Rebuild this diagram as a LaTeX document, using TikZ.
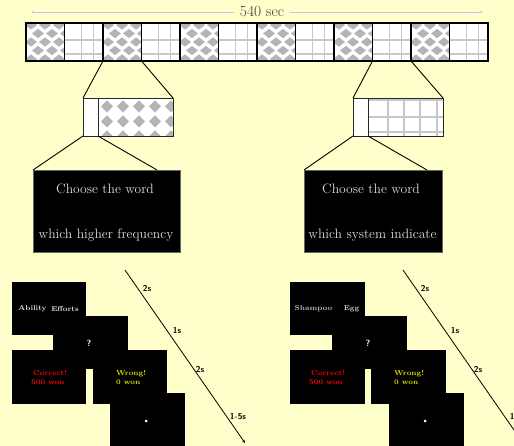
\documentclass[tikz,border=0pt]{standalone}
\usetikzlibrary{arrows.meta}
\definecolor{bg}{HTML}{FFFFCC}
\definecolor{dia}{HTML}{B4B4B4}
\definecolor{gridc}{HTML}{C8C8C8}
\definecolor{arrc}{HTML}{C4C4F0}
\definecolor{boxtxt}{HTML}{DCDCDC}
\definecolor{wordtxt}{HTML}{E0E0E0}
\definecolor{wrongc}{HTML}{E0E000}
\definecolor{sectxt}{HTML}{404040}
\tikzset{
  cellbox/.style={draw=black, line width=1.2pt, minimum width=38.5pt, minimum height=38pt, inner sep=0pt, outer sep=0pt, anchor=north west},
  zoombox/.style={draw=black!85, line width=0.9pt, inner sep=0pt, outer sep=0pt, anchor=north west},
  screen/.style={fill=black, draw=none, inner sep=0pt, outer sep=0pt, anchor=north west},
  conn/.style={draw=black, line width=0.9pt},
  bigtxt/.style={text=boxtxt, font=\fontsize{13.6}{15}\selectfont, inner sep=0pt},
  wordlbl/.style={text=wordtxt, font=\fontsize{7.2}{8}\selectfont\bfseries, inner sep=0pt},
  qmark/.style={text=white, font=\fontsize{9}{9}\selectfont\sffamily\bfseries, inner sep=0pt},
  fixmark/.style={fill=white, circle, inner sep=0pt, minimum size=3pt},
  fb/.style={font=\fontsize{7.2}{9}\selectfont\bfseries, inner sep=0pt, align=left, anchor=west},
  tlbl/.style={font=\fontsize{8.5}{9}\selectfont\sffamily\bfseries, inner sep=0pt},
  timeline/.style={draw=black, line width=0.8pt, -{Stealth[length=3pt,width=2.5pt]}}
}
\begin{document}
\begin{tikzpicture}[x=1pt,y=-1pt]
\fill[bg] (0,0) rectangle (514,446);
\useasboundingbox (0,0) rectangle (514,446);
\clip (0,0) rectangle (514,446);

% ---- top timeline arrow
\coordinate (tl) at (31,12);
\coordinate (tr) at (483,12);
\draw[arrc, line width=0.6pt, {Stealth[length=3pt,width=2.5pt]}-{Stealth[length=3pt,width=2.5pt]}] (tl) -- (tr);
\node[fill=bg, text=sectxt, font=\fontsize{15.5}{16}\selectfont, inner xsep=6pt, inner ysep=1pt] (sec) at (262,11) {540 sec};

% ---- cell patterns
\foreach \i in {0,...,11} {
  \pgfmathsetmacro\xa{26+38.5*\i}
  \begin{scope}
    \clip (\xa,23) rectangle ++(38.5,38);
    \fill[white] (\xa,23) rectangle ++(38.5,38);
    \ifodd\i
      \draw[gridc, line width=1.3pt] (\xa+17,23) -- (\xa+17,61) (\xa+29,23) -- (\xa+29,61)
        (\xa,40) -- (\xa+38.5,40) (\xa,54) -- (\xa+38.5,54);
    \else
      \foreach \j in {0,...,4} {
        \foreach \k in {0,...,3} {
          \pgfmathsetmacro\cx{\xa+5+14*\k+7*mod(\j,2)}
          \pgfmathsetmacro\cy{25+8.5*\j}
          \fill[dia] (\cx-6,\cy) -- (\cx,\cy-4.6) -- (\cx+6,\cy) -- (\cx,\cy+4.6) -- cycle;
        }
      }
    \fi
  \end{scope}
}
\foreach \i in {0,...,11} {
  \pgfmathsetmacro\xa{26+38.5*\i}
  \node[cellbox] (c\i) at (\xa,23) {};
}

% ---- zoomed blocks
\fill[white] (83,98) rectangle (173,136);
\begin{scope}
  \clip (98,98) rectangle (173,136);
  \foreach \k in {0,...,4} {
    \foreach \j in {0,...,2} {
      \pgfmathsetmacro\cx{107+16*\k}
      \pgfmathsetmacro\cy{106.5+15*\j}
      \fill[dia] (\cx-6,\cy) -- (\cx,\cy-6) -- (\cx+6,\cy) -- (\cx,\cy+6) -- cycle;
    }
  }
\end{scope}
\fill[white] (353,98) rectangle (443,136);
\draw[gridc, line width=1.2pt] (388,98) -- (388,136) (404,98) -- (404,136) (420,98) -- (420,136) (437,98) -- (437,136)
  (368,100) -- (443,100) (368,117) -- (443,117) (368,132) -- (443,132);

\node[zoombox, minimum width=15pt, minimum height=38pt] (mLa) at (83,98) {};
\node[zoombox, minimum width=75pt, minimum height=38pt] (mLb) at (98,98) {};
\node[zoombox, minimum width=15pt, minimum height=38pt] (mRa) at (353,98) {};
\node[zoombox, minimum width=75pt, minimum height=38pt] (mRb) at (368,98) {};

\draw[conn] (c2.south west) -- (mLa.north west);
\draw[conn] (c2.south east) -- (mLb.north east);
\draw[conn] (c9.south west) -- (mRa.north west);
\draw[conn] (c9.south east) -- (mRb.north east);

% ---- instruction screens
\node[screen, draw=black!60, line width=0.4pt, minimum width=147pt, minimum height=82pt] (bL) at (33,170) {};
\node[screen, draw=black!60, line width=0.4pt, minimum width=138pt, minimum height=82pt] (bR) at (304,170) {};
\coordinate (bLt) at (157,170);
\coordinate (bRt) at (427,170);
\draw[conn] (mLa.south west) -- (bL.north west);
\draw[conn] (mLa.south east) -- (bLt);
\draw[conn] (mRa.south west) -- (bR.north west);
\draw[conn] (mRa.south east) -- (bRt);

\node[bigtxt] (qL1) at (105,189) {Choose the word};
\node[bigtxt] (qL2) at (106,235) {which higher frequency};
\node[bigtxt] (qR1) at (371,189) {Choose the word};
\node[bigtxt] (qR2) at (372.5,235) {which system indicate};

% ---- trial sequence, left
\node[screen, minimum width=74pt, minimum height=53pt] (sA) at (12,282) {};
\node[screen, minimum width=75pt, minimum height=53pt] (sB) at (53,316) {};
\node[screen, minimum width=74pt, minimum height=54pt] (sC) at (12,350) {};
\node[screen, minimum width=74pt, minimum height=54pt] (sD) at (93,350) {};
\node[screen, minimum width=75pt, minimum height=60pt] (sE) at (110,393) {};

\node[wordlbl] (wA1) at (32.5,309) {Ability};
\node[wordlbl] (wA2) at (65,309) {Efforts};
\node[qmark] (qA) at (89,343) {?};
\node[fb, text=red] (fC) at (31,378) {\hspace*{2pt}Correct!\\500 won};
\node[fb, text=wrongc] (fD) at (116,378) {Wrong!\\0 won};
\node[fixmark] (fix) at (146,421) {};

\coordinate (lL1) at (125,270);
\coordinate (lL2) at (245,443);
\draw[timeline] (lL1) -- (lL2);
\node[tlbl] (tL1) at (147,289) {2s};
\node[tlbl] (tL2) at (177,331) {1s};
\node[tlbl] (tL3) at (200,370) {2s};
\node[tlbl] (tL4) at (238,417) {1-5s};

% ---- trial sequence, right
\node[screen, minimum width=75pt, minimum height=53pt] (rA) at (290,282) {};
\node[screen, minimum width=75pt, minimum height=53pt] (rB) at (332,316) {};
\node[screen, minimum width=75pt, minimum height=54pt] (rC) at (290,350) {};
\node[screen, minimum width=75pt, minimum height=54pt] (rD) at (371,350) {};
\node[screen, minimum width=75pt, minimum height=60pt] (rE) at (389,393) {};

\node[wordlbl, text=black!25] (wB1) at (313.5,309) {Shampoo};
\node[wordlbl, text=black!20] (wB2) at (351.5,309) {Egg};
\node[qmark] (qB) at (368,343) {?};
\node[fb, text=red] (gC) at (309,378) {\hspace*{2pt}Correct!\\500 won};
\node[fb, text=wrongc] (gD) at (394,378) {Wrong!\\0 won};
\node[fixmark] (fixR) at (425,421) {};

\coordinate (lR1) at (403,270);
\coordinate (lR2) at (523,443);
\draw[timeline] (lR1) -- (lR2);
\node[tlbl] (tR1) at (425,289) {2s};
\node[tlbl] (tR2) at (455,331) {1s};
\node[tlbl] (tR3) at (478,370) {2s};
\node[tlbl] (tR4) at (518,417) {1-5s};
\end{tikzpicture}
\end{document}
